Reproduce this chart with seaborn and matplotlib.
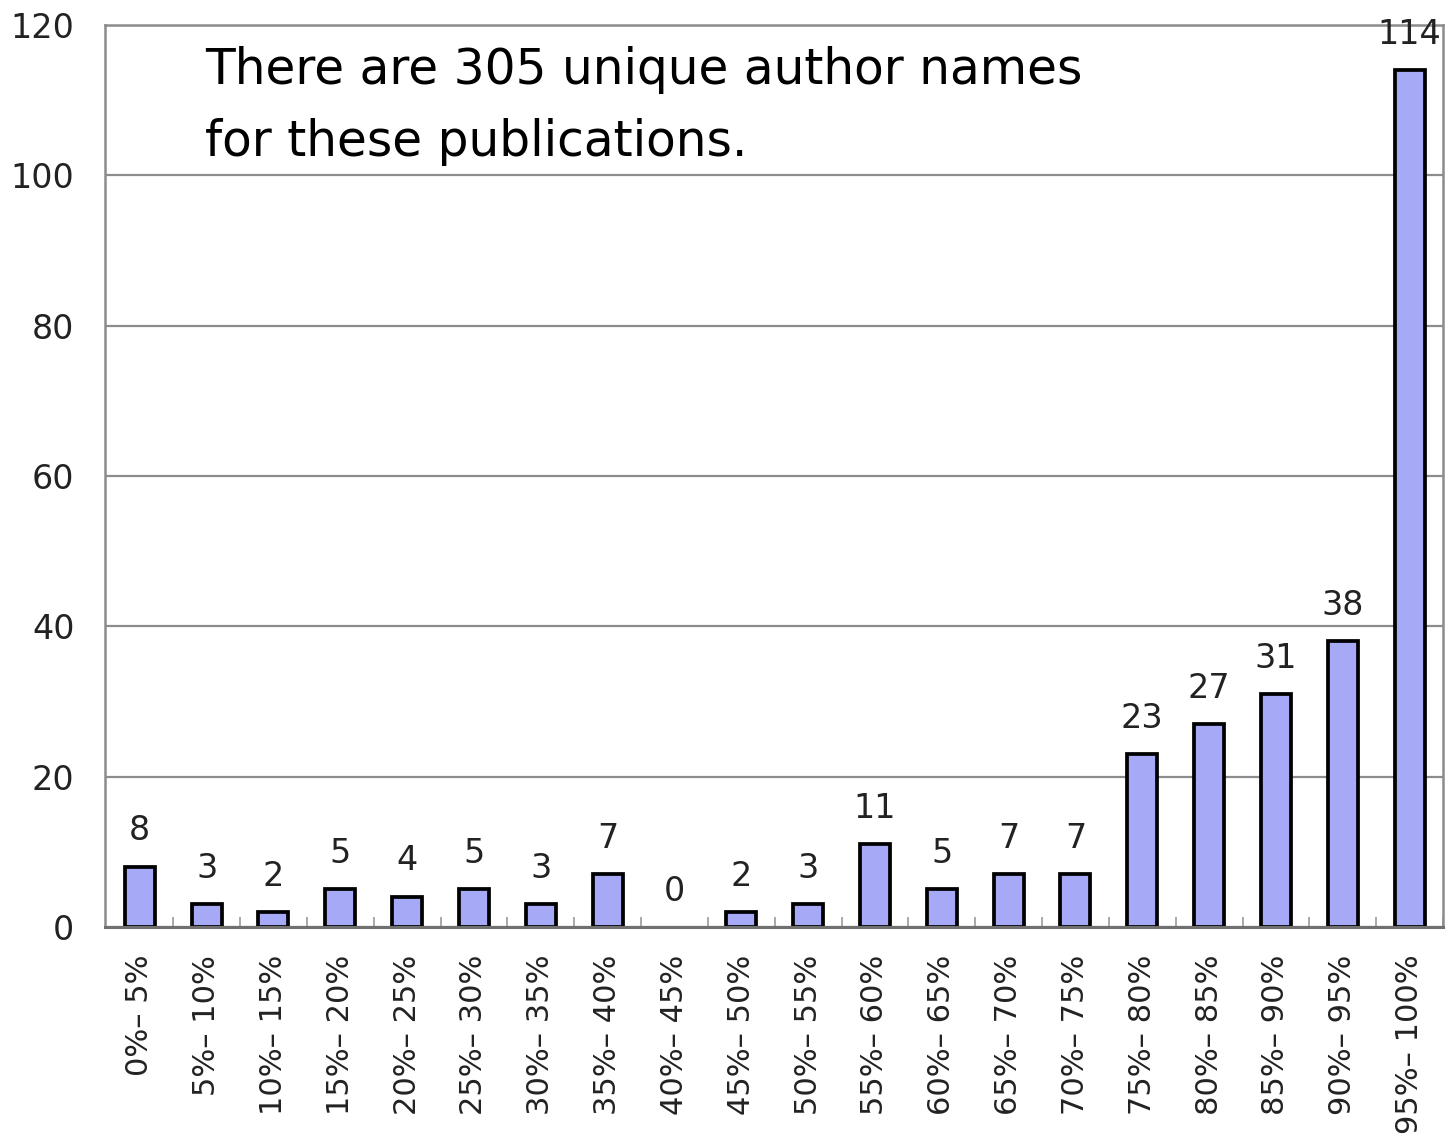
import matplotlib
matplotlib.use("Agg")
import matplotlib.pyplot as plt
import seaborn as sns
import numpy as np
import pandas as pd

categories = ["0%– 5%", "5%– 10%", "10%– 15%", "15%– 20%", "20%– 25%",
              "25%– 30%", "30%– 35%", "35%– 40%", "40%– 45%", "45%– 50%",
              "50%– 55%", "55%– 60%", "60%– 65%", "65%– 70%", "70%– 75%",
              "75%– 80%", "80%– 85%", "85%– 90%", "90%– 95%", "95%– 100%"]
counts = [8, 3, 2, 5, 4, 5, 3, 7, 0, 2, 3, 11, 5, 7, 7, 23, 27, 31, 38, 114]
y_ticks = [0, 20, 40, 60, 80, 100, 120]
note = "There are 305 unique author names\nfor these publications."

sns.set_theme(style="white")
plt.rcParams['font.family'] = ['DejaVu Sans']

df = pd.DataFrame({"range": categories, "count": counts})

fig = plt.figure(figsize=(14.46, 11.46), dpi=100)
ax = fig.add_axes([105/1446, 1-927/1146, (1443-105)/1446, (927-25)/1146])

sns.barplot(data=df, x="range", y="count", color="#a6aaf6", saturation=1,
            edgecolor="black", linewidth=2.7, width=0.45, ax=ax)

# an empty bin shows no outline
for p in ax.containers[0]:
    if p.get_height() == 0:
        p.set_linewidth(0)

ax.set_ylim(0, 120)
ax.set_xlim(-0.52, 19.48)
ax.set_yticks(y_ticks)
ax.set_yticklabels([str(v) for v in y_ticks], fontsize=24, color="#222222")
ax.yaxis.grid(True, color="#8c8c8c", linewidth=1.6)
ax.set_axisbelow(True)
ax.tick_params(axis="y", length=0, pad=22)
ax.tick_params(axis="x", which="major", length=0, pad=20)
ax.set_xticks(np.arange(len(categories)))
ax.set_xticklabels(categories, rotation=90, fontsize=22, color="#222222")
ax.set_xticks(np.arange(len(categories)) + 0.5, minor=True)
ax.tick_params(axis="x", which="minor", direction="in", length=7, width=1.2,
               color="#9a9a9a", bottom=True)
ax.set_xlabel("")
ax.set_ylabel("")

for side in ["left", "top", "right", "bottom"]:
    ax.spines[side].set_visible(True)
    ax.spines[side].set_color("#8c8c8c")
    ax.spines[side].set_linewidth(1.8)
ax.spines["bottom"].set_color("#707070")
ax.spines["bottom"].set_linewidth(2.2)

labels = ax.bar_label(ax.containers[0], fmt="%d", padding=14, fontsize=24,
                      color="#222222")
for t in labels:
    t.set_clip_on(False)

fig.text(205/1446, 1-46/1146, note, ha="left", va="top", fontsize=35,
         color="black", linespacing=1.62)

fig.savefig("out.png", dpi=100, facecolor="white")
